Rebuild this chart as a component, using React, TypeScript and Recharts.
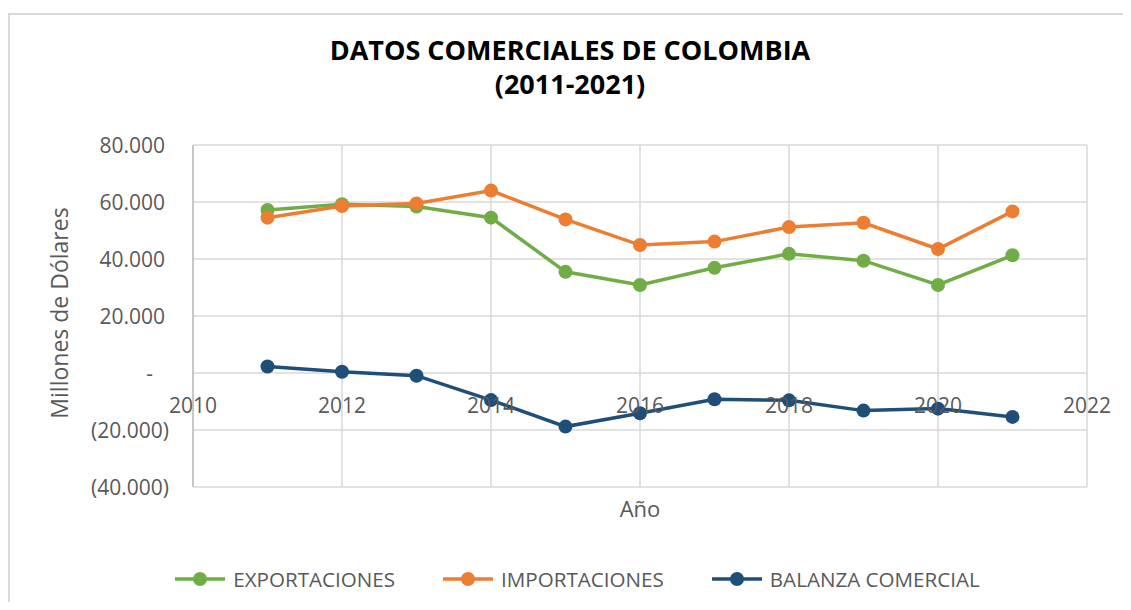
import React from 'react';
import { LineChart, Line, XAxis, YAxis, CartesianGrid, Legend, Label } from 'recharts';

const YEARS = [2011, 2012, 2013, 2014, 2015, 2016, 2017, 2018, 2019, 2020, 2021];
const EXPORTACIONES = [57200, 59200, 58400, 54500, 35500, 30900, 36900, 41800, 39400, 30900, 41300];
const IMPORTACIONES = [54500, 58600, 59500, 64000, 53900, 44900, 46100, 51200, 52700, 43500, 56700];
const BALANZA = [2300, 450, -950, -9500, -18800, -14100, -9200, -9600, -13200, -12500, -15400];
const X_TICKS = [2010, 2012, 2014, 2016, 2018, 2020, 2022];
const Y_TICKS = [-40000, -20000, 0, 20000, 40000, 60000, 80000];
const SERIES = [
  { key: 'exp', name: 'EXPORTACIONES', color: '#70ad47', values: EXPORTACIONES },
  { key: 'imp', name: 'IMPORTACIONES', color: '#ed7d31', values: IMPORTACIONES },
  { key: 'bal', name: 'BALANZA COMERCIAL', color: '#1f4e79', values: BALANZA },
];

const data = YEARS.map((year, i) => ({
  year,
  exp: EXPORTACIONES[i],
  imp: IMPORTACIONES[i],
  bal: BALANZA[i],
}));

const W = 1115;
const H = 594;
const LEGEND_H = 24;
const MARGIN = { top: 137, right: 36, left: 0, bottom: 85 - LEGEND_H };
const Y_AXIS_W = 185;
const X_AXIS_H = 30;
const PLOT_H = H - MARGIN.top - MARGIN.bottom - LEGEND_H - X_AXIS_H;
const Y_MIN = -40000;
const Y_MAX = 80000;
const ZERO_Y = MARGIN.top + (PLOT_H * (Y_MAX - 0)) / (Y_MAX - Y_MIN);

const FONT = "'Open Sans', 'DejaVu Sans', sans-serif";
const GRAY = '#595959';

const fmt = (v: number) => String(v).replace(/\B(?=(\d{3})+(?!\d))/g, '.');

const YTick = (props: any) => {
  const { y, payload } = props;
  const v = payload.value as number;
  let label: string;
  let xr: number;
  if (v === 0) {
    label = '-';
    xr = 145;
  } else if (v < 0) {
    label = `(${fmt(-v)})`;
    xr = 161;
  } else {
    label = fmt(v);
    xr = 157;
  }
  return (
    <text x={xr} y={y} dy={8} textAnchor="end" fill={GRAY} fontSize={21} fontFamily={FONT}>
      {label}
    </text>
  );
};

const XTick = (props: any) => {
  const { x, payload } = props;
  return (
    <text x={x} y={ZERO_Y + 40} textAnchor="middle" fill={GRAY} fontSize={21} fontFamily={FONT}>
      {payload.value}
    </text>
  );
};

const LegendContent = () => (
  <div
    style={{
      display: 'flex',
      justifyContent: 'center',
      alignItems: 'center',
      gap: 48,
      fontFamily: FONT,
      fontSize: 20.6,
      color: GRAY,
      height: LEGEND_H,
      paddingLeft: 24,
    }}
  >
    {SERIES.map((s) => (
      <div key={s.key} style={{ display: 'flex', alignItems: 'center' }}>
        <svg width={50} height={20} style={{ marginRight: 8 }}>
          <line x1={0} y1={10} x2={50} y2={10} stroke={s.color} strokeWidth={3.5} />
          <circle cx={25} cy={10} r={7} fill={s.color} />
        </svg>
        <span>{s.name}</span>
      </div>
    ))}
  </div>
);

export default function App() {
  return (
    <div style={{ position: 'relative', width: W, height: H }}>
      <div style={{ position: 'absolute', left: 0, top: 5, width: 2, height: H - 5, background: '#d9d9d9' }} />
      <div style={{ position: 'absolute', left: 0, top: 5, width: W, height: 2, background: '#d9d9d9' }} />
      <div
        style={{
          position: 'absolute',
          left: 262,
          top: 25,
          width: 600,
          textAlign: 'center',
          fontFamily: FONT,
          fontWeight: 700,
          fontSize: 27,
          lineHeight: '34px',
          color: '#000',
        }}
      >
        <div>DATOS COMERCIALES DE COLOMBIA</div>
        <div>(2011-2021)</div>
      </div>
      <LineChart width={W} height={H} data={data} margin={MARGIN}>
        <CartesianGrid stroke="#d9d9d9" strokeWidth={1.5} />
        <XAxis
          dataKey="year"
          type="number"
          domain={[2010, 2022]}
          ticks={X_TICKS}
          axisLine={false}
          tickLine={false}
          height={X_AXIS_H}
          tick={<XTick />}
          interval={0}
        >
          <Label
            content={(p: any) => {
              const vb = p.viewBox;
              return (
                <text x={vb.x + vb.width / 2} y={509} textAnchor="middle" fill={GRAY} fontSize={22} fontFamily={FONT}>
                  Año
                </text>
              );
            }}
          />
        </XAxis>
        <YAxis
          type="number"
          domain={[Y_MIN, Y_MAX]}
          ticks={Y_TICKS}
          width={Y_AXIS_W}
          axisLine={{ stroke: '#bfbfbf', strokeWidth: 1.5 }}
          tickLine={false}
          tick={<YTick />}
          interval={0}
        >
          <Label
            content={(p: any) => {
              const vb = p.viewBox;
              const cy = vb.y + vb.height / 2 - 3;
              return (
                <text
                  x={51}
                  y={cy}
                  transform={`rotate(-90, 51, ${cy})`}
                  textAnchor="middle"
                  dominantBaseline="central"
                  fill={GRAY}
                  fontSize={23}
                  fontFamily={FONT}
                >
                  Millones de Dólares
                </text>
              );
            }}
          />
        </YAxis>
        <Legend content={<LegendContent />} wrapperStyle={{ top: 559, left: 0, width: W }} />
        {SERIES.map((s) => (
          <Line
            key={s.key}
            dataKey={s.key}
            name={s.name}
            stroke={s.color}
            strokeWidth={3.5}
            dot={{ r: 7, fill: s.color, stroke: s.color, strokeWidth: 0 }}
            activeDot={false}
            isAnimationActive={false}
          />
        ))}
      </LineChart>
    </div>
  );
}
